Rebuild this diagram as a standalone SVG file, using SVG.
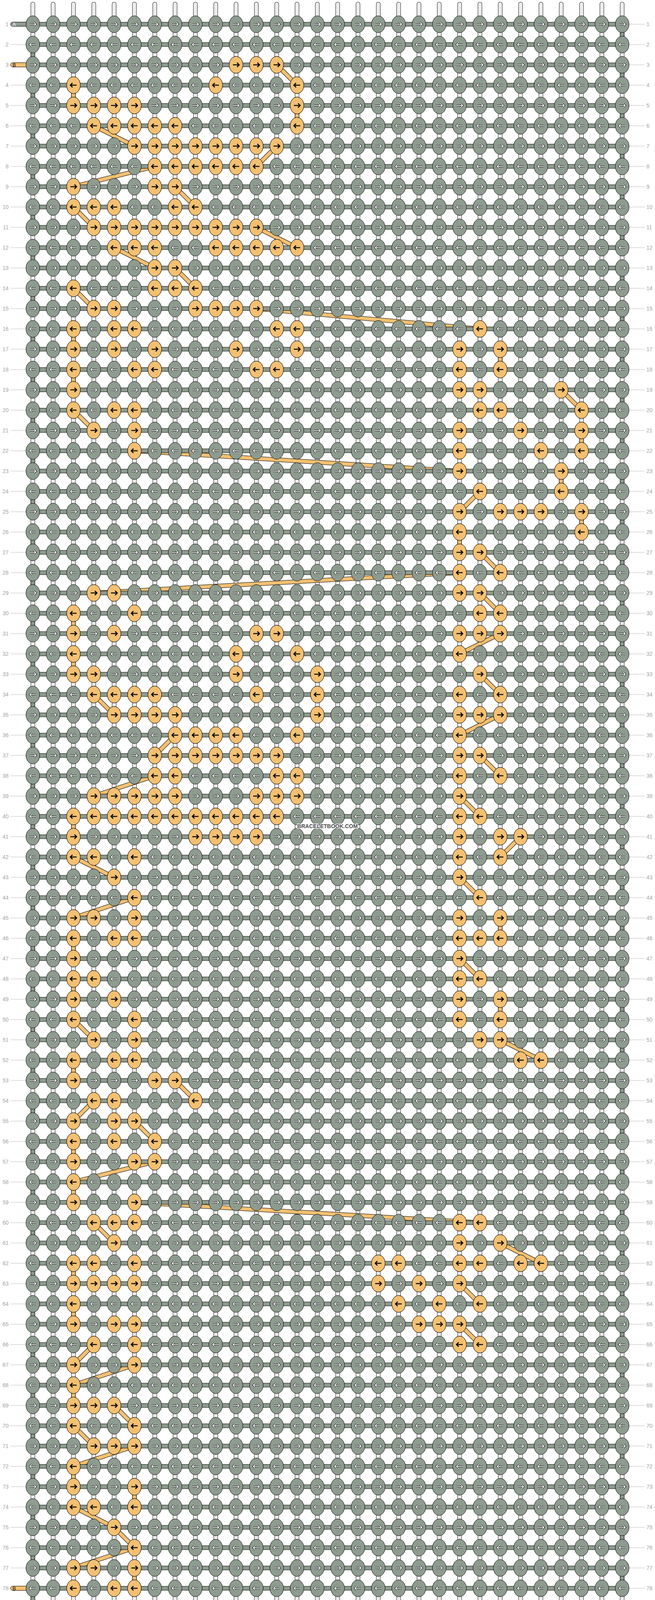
<svg xmlns="http://www.w3.org/2000/svg" width="1676" height="4232" viewBox="0 0 1676 4232">
<style>
.lbl{font-family:"Liberation Sans",Arial,sans-serif;font-size:14px;fill:#a3a3a3;text-anchor:end}
.lbr{font-family:"Liberation Sans",Arial,sans-serif;font-size:14px;fill:#a3a3a3;text-anchor:start}
.ok{fill:#f3c071;stroke:#000;stroke-width:1}
.gk{fill:#8e9b8f;stroke:#000;stroke-width:1}
.aw{fill:none;stroke:#fff;stroke-width:1.8}
.ao{fill:none;stroke:#000;stroke-width:3.8}
.ab{fill:none;stroke:#000;stroke-width:2.6}
.s1{fill:none;stroke:#000;stroke-width:11;stroke-linecap:round}
.s2{fill:none;stroke:#fff;stroke-width:9;stroke-linecap:round}
.s3{fill:none;stroke:#c8c8c8;stroke-width:4}
.s4{fill:none;stroke:#fff;stroke-width:2}
.c1{fill:none;stroke:#000;stroke-width:11}
.c2{fill:none;stroke:#f3c071;stroke-width:9}
.e2{fill:none;stroke:#8e9b8f;stroke-width:9}
.stg{fill:#8e9b8f;stroke:#000;stroke-width:1}
.sto{fill:#f3c071;stroke:#000;stroke-width:1}
.stt{font-family:"Liberation Sans",Arial,sans-serif;font-size:13px}
.wm{font-family:"Liberation Sans",Arial,sans-serif;font-weight:bold;font-size:14px;fill:#4a4a4a;stroke:#fff;stroke-width:3;paint-order:stroke;text-anchor:middle}
</style>
<defs>
<path id="aR" d="M-8 0H7.5M2.5-5.5L8 0 2.5 5.5"/>
<path id="aL" d="M8 0H-7.5M-2.5-5.5L-8 0-2.5 5.5"/>
<g id="R"><ellipse rx="17.5" ry="21.5" class="ok"/><use href="#aR" class="ab"/></g>
<g id="L"><ellipse rx="17.5" ry="21.5" class="ok"/><use href="#aL" class="ab"/></g>
<pattern id="kp" x="58" y="36" width="52" height="104" patternUnits="userSpaceOnUse">
<g transform="translate(26 26)"><ellipse rx="17.5" ry="21.5" class="gk"/><use href="#aR" class="ao"/><use href="#aR" class="aw"/></g>
<g transform="translate(26 78)"><ellipse rx="17.5" ry="21.5" class="gk"/><use href="#aL" class="ao"/><use href="#aL" class="aw"/></g>
</pattern>
<pattern id="hp" x="0" y="36" width="1676" height="52" patternUnits="userSpaceOnUse">
<rect x="0" y="20.5" width="1676" height="11" fill="#000"/><rect x="0" y="21.5" width="1676" height="9" fill="#8e9b8f"/>
</pattern>
<pattern id="tp" x="0" y="36" width="1676" height="52" patternUnits="userSpaceOnUse">
<rect x="0" y="25.5" width="1676" height="1" fill="#bdbdbd"/>
</pattern>
<path id="vs" d="M84 10.5V4221.5M136 10.5V4221.5M188 10.5V4221.5M240 10.5V4221.5M292 10.5V4221.5M344 10.5V4221.5M396 10.5V4221.5M448 10.5V4221.5M500 10.5V4221.5M552 10.5V4221.5M604 10.5V4221.5M656 10.5V4221.5M708 10.5V4221.5M760 10.5V4221.5M812 10.5V4221.5M864 10.5V4221.5M916 10.5V4221.5M968 10.5V4221.5M1020 10.5V4221.5M1072 10.5V4221.5M1124 10.5V4221.5M1176 10.5V4221.5M1228 10.5V4221.5M1280 10.5V4221.5M1332 10.5V4221.5M1384 10.5V4221.5M1436 10.5V4221.5M1488 10.5V4221.5M1540 10.5V4221.5M1592 10.5V4221.5"/>
<path id="bp" d="M708 166L760 218M188 218V270M760 270V322M240 322L344 374M708 374L656 426M396 426L188 478M448 478L500 530M188 530L240 582M656 582L760 634M292 634L396 686M448 686L500 738M188 738L240 790M656 790L1228 842M188 842V894M1280 894V946M188 946V998M1436 998L1488 1050M188 1050L240 1102M1488 1102V1154M344 1154L1176 1206M1436 1206V1258M1228 1258L1176 1310M1488 1310V1362M1176 1362V1414M1228 1414L1280 1466M1176 1466L240 1518M1228 1518L1280 1570M188 1570V1622M1280 1622L1176 1674M188 1674V1726M1228 1726L1280 1778M240 1778L292 1830M1280 1830L1176 1882M448 1882L396 1934M1228 1934L1280 1986M396 1986L240 2038M1176 2038L1228 2090M188 2090V2142M1332 2142L1280 2194M188 2194L292 2246M1176 2246L1228 2298M344 2298L188 2350M1280 2350V2402M188 2402V2454M1176 2454L1228 2506M188 2506V2558M1280 2558V2610M188 2610L240 2662M1280 2662L1384 2714M188 2714V2766M448 2766L500 2818M240 2818L188 2870M344 2870L396 2922M188 2922V2974M396 2974L188 3026M188 3026V3078M344 3078L1228 3130M240 3130L292 3182M1280 3182L1384 3234M188 3234V3286M1176 3286L1228 3338M188 3338V3390M1176 3390L1228 3442M240 3442L188 3494M344 3494L188 3546M188 3546V3598M292 3598L344 3650M188 3650L240 3702M344 3702L188 3754M188 3754V3806M344 3806V3858M188 3858L292 3910M292 3910L344 3962M344 3962L188 4014M344 4014V4066"/>
</defs>
<rect width="1676" height="4232" fill="#fff"/>
<g id="strings">
<use href="#vs" class="s1"/><use href="#vs" class="s2"/><use href="#vs" class="s3"/><use href="#vs" class="s4"/>
</g>
<g id="ticks">
<rect x="27" y="36" width="39.5" height="4160" fill="url(#tp)"/>
<rect x="1610" y="36" width="40" height="4160" fill="url(#tp)"/>
</g>
<g id="connectors">
<path d="M1592 62V4170" class="c1" stroke-dasharray="52 52"/>
<path d="M1592 62V4170" class="e2" stroke-dasharray="52 52"/>
<path d="M84 114V4118" class="c1" stroke-dasharray="52 52"/>
<path d="M84 114V4118" class="e2" stroke-dasharray="52 52"/>
<use href="#bp" class="c1"/><use href="#bp" class="c2"/>
<rect x="84" y="36" width="1508" height="4160" fill="url(#hp)"/>
</g>
<g id="stubs">
<rect x="27" y="56.5" width="60" height="11" rx="5.5" class="stg"/><text x="32" y="67" class="stt" fill="#fff">A</text>
<rect x="27" y="160.5" width="60" height="11" rx="5.5" class="sto"/><text x="32" y="171" class="stt" fill="#000">B</text>
<rect x="27" y="4060.5" width="60" height="11" rx="5.5" class="sto"/><text x="32" y="4071" class="stt" fill="#000">B</text>
<rect x="27" y="4164.5" width="60" height="11" rx="5.5" class="stg"/><text x="32" y="4175" class="stt" fill="#fff">A</text>
</g>
<g id="knots">
<rect x="58" y="36" width="1560" height="4160" fill="url(#kp)"/>
<g id="row3" transform="translate(0 166)"><use href="#R" x="604"/><use href="#R" x="656"/><use href="#R" x="708"/></g>
<g id="row4" transform="translate(0 218)"><use href="#L" x="188"/><use href="#L" x="552"/><use href="#L" x="760"/></g>
<g id="row5" transform="translate(0 270)"><use href="#R" x="188"/><use href="#R" x="240"/><use href="#R" x="292"/><use href="#R" x="344"/><use href="#R" x="760"/></g>
<g id="row6" transform="translate(0 322)"><use href="#L" x="240"/><use href="#L" x="292"/><use href="#L" x="344"/><use href="#L" x="396"/><use href="#L" x="448"/><use href="#L" x="760"/></g>
<g id="row7" transform="translate(0 374)"><use href="#R" x="344"/><use href="#R" x="396"/><use href="#R" x="448"/><use href="#R" x="500"/><use href="#R" x="552"/><use href="#R" x="604"/><use href="#R" x="656"/><use href="#R" x="708"/></g>
<g id="row8" transform="translate(0 426)"><use href="#L" x="396"/><use href="#L" x="448"/><use href="#L" x="500"/><use href="#L" x="552"/><use href="#L" x="604"/><use href="#L" x="656"/></g>
<g id="row9" transform="translate(0 478)"><use href="#R" x="188"/><use href="#R" x="396"/><use href="#R" x="448"/></g>
<g id="row10" transform="translate(0 530)"><use href="#L" x="188"/><use href="#L" x="240"/><use href="#L" x="292"/><use href="#L" x="448"/><use href="#L" x="500"/></g>
<g id="row11" transform="translate(0 582)"><use href="#R" x="240"/><use href="#R" x="292"/><use href="#R" x="344"/><use href="#R" x="396"/><use href="#R" x="448"/><use href="#R" x="500"/><use href="#R" x="552"/><use href="#R" x="604"/><use href="#R" x="656"/></g>
<g id="row12" transform="translate(0 634)"><use href="#L" x="292"/><use href="#L" x="344"/><use href="#L" x="396"/><use href="#L" x="552"/><use href="#L" x="604"/><use href="#L" x="656"/><use href="#L" x="708"/><use href="#L" x="760"/></g>
<g id="row13" transform="translate(0 686)"><use href="#R" x="396"/><use href="#R" x="448"/></g>
<g id="row14" transform="translate(0 738)"><use href="#L" x="188"/><use href="#L" x="396"/><use href="#L" x="448"/><use href="#L" x="500"/></g>
<g id="row15" transform="translate(0 790)"><use href="#R" x="240"/><use href="#R" x="292"/><use href="#R" x="500"/><use href="#R" x="552"/><use href="#R" x="604"/><use href="#R" x="656"/></g>
<g id="row16" transform="translate(0 842)"><use href="#L" x="188"/><use href="#L" x="292"/><use href="#L" x="344"/><use href="#L" x="708"/><use href="#L" x="760"/><use href="#L" x="1228"/></g>
<g id="row17" transform="translate(0 894)"><use href="#R" x="188"/><use href="#R" x="292"/><use href="#R" x="396"/><use href="#R" x="604"/><use href="#R" x="760"/><use href="#R" x="1176"/><use href="#R" x="1280"/></g>
<g id="row18" transform="translate(0 946)"><use href="#L" x="188"/><use href="#L" x="344"/><use href="#L" x="396"/><use href="#L" x="656"/><use href="#L" x="708"/><use href="#L" x="1176"/><use href="#L" x="1280"/></g>
<g id="row19" transform="translate(0 998)"><use href="#R" x="188"/><use href="#R" x="1176"/><use href="#R" x="1228"/><use href="#R" x="1436"/></g>
<g id="row20" transform="translate(0 1050)"><use href="#L" x="188"/><use href="#L" x="292"/><use href="#L" x="344"/><use href="#L" x="1228"/><use href="#L" x="1280"/><use href="#L" x="1488"/></g>
<g id="row21" transform="translate(0 1102)"><use href="#R" x="240"/><use href="#R" x="344"/><use href="#R" x="1176"/><use href="#R" x="1332"/><use href="#R" x="1488"/></g>
<g id="row22" transform="translate(0 1154)"><use href="#L" x="344"/><use href="#L" x="1176"/><use href="#L" x="1384"/><use href="#L" x="1488"/></g>
<g id="row23" transform="translate(0 1206)"><use href="#R" x="1176"/><use href="#R" x="1436"/></g>
<g id="row24" transform="translate(0 1258)"><use href="#L" x="1228"/><use href="#L" x="1436"/></g>
<g id="row25" transform="translate(0 1310)"><use href="#R" x="1176"/><use href="#R" x="1280"/><use href="#R" x="1332"/><use href="#R" x="1384"/><use href="#R" x="1488"/></g>
<g id="row26" transform="translate(0 1362)"><use href="#L" x="1176"/><use href="#L" x="1488"/></g>
<g id="row27" transform="translate(0 1414)"><use href="#R" x="1176"/><use href="#R" x="1228"/></g>
<g id="row28" transform="translate(0 1466)"><use href="#L" x="1176"/><use href="#L" x="1280"/></g>
<g id="row29" transform="translate(0 1518)"><use href="#R" x="240"/><use href="#R" x="292"/><use href="#R" x="1176"/><use href="#R" x="1228"/></g>
<g id="row30" transform="translate(0 1570)"><use href="#L" x="188"/><use href="#L" x="344"/><use href="#L" x="1228"/><use href="#L" x="1280"/></g>
<g id="row31" transform="translate(0 1622)"><use href="#R" x="188"/><use href="#R" x="292"/><use href="#R" x="656"/><use href="#R" x="708"/><use href="#R" x="1176"/><use href="#R" x="1228"/><use href="#R" x="1280"/></g>
<g id="row32" transform="translate(0 1674)"><use href="#L" x="188"/><use href="#L" x="604"/><use href="#L" x="760"/><use href="#L" x="1176"/></g>
<g id="row33" transform="translate(0 1726)"><use href="#R" x="188"/><use href="#R" x="240"/><use href="#R" x="604"/><use href="#R" x="812"/><use href="#R" x="1228"/></g>
<g id="row34" transform="translate(0 1778)"><use href="#L" x="240"/><use href="#L" x="292"/><use href="#L" x="344"/><use href="#L" x="396"/><use href="#L" x="656"/><use href="#L" x="812"/><use href="#L" x="1176"/><use href="#L" x="1280"/></g>
<g id="row35" transform="translate(0 1830)"><use href="#R" x="292"/><use href="#R" x="344"/><use href="#R" x="396"/><use href="#R" x="448"/><use href="#R" x="812"/><use href="#R" x="1176"/><use href="#R" x="1228"/><use href="#R" x="1280"/></g>
<g id="row36" transform="translate(0 1882)"><use href="#L" x="448"/><use href="#L" x="500"/><use href="#L" x="552"/><use href="#L" x="604"/><use href="#L" x="760"/><use href="#L" x="1176"/></g>
<g id="row37" transform="translate(0 1934)"><use href="#R" x="396"/><use href="#R" x="448"/><use href="#R" x="500"/><use href="#R" x="552"/><use href="#R" x="604"/><use href="#R" x="656"/><use href="#R" x="708"/><use href="#R" x="1176"/><use href="#R" x="1228"/></g>
<g id="row38" transform="translate(0 1986)"><use href="#L" x="396"/><use href="#L" x="448"/><use href="#L" x="708"/><use href="#L" x="760"/><use href="#L" x="1176"/><use href="#L" x="1280"/></g>
<g id="row39" transform="translate(0 2038)"><use href="#R" x="240"/><use href="#R" x="292"/><use href="#R" x="344"/><use href="#R" x="396"/><use href="#R" x="448"/><use href="#R" x="656"/><use href="#R" x="708"/><use href="#R" x="760"/><use href="#R" x="1176"/></g>
<g id="row40" transform="translate(0 2090)"><use href="#L" x="188"/><use href="#L" x="240"/><use href="#L" x="292"/><use href="#L" x="344"/><use href="#L" x="396"/><use href="#L" x="448"/><use href="#L" x="500"/><use href="#L" x="552"/><use href="#L" x="604"/><use href="#L" x="656"/><use href="#L" x="708"/><use href="#L" x="1176"/><use href="#L" x="1228"/></g>
<g id="row41" transform="translate(0 2142)"><use href="#R" x="188"/><use href="#R" x="500"/><use href="#R" x="552"/><use href="#R" x="604"/><use href="#R" x="656"/><use href="#R" x="1176"/><use href="#R" x="1280"/><use href="#R" x="1332"/></g>
<g id="row42" transform="translate(0 2194)"><use href="#L" x="188"/><use href="#L" x="240"/><use href="#L" x="344"/><use href="#L" x="1176"/><use href="#L" x="1280"/></g>
<g id="row43" transform="translate(0 2246)"><use href="#R" x="292"/><use href="#R" x="1176"/></g>
<g id="row44" transform="translate(0 2298)"><use href="#L" x="344"/><use href="#L" x="1228"/></g>
<g id="row45" transform="translate(0 2350)"><use href="#R" x="188"/><use href="#R" x="240"/><use href="#R" x="344"/><use href="#R" x="1176"/><use href="#R" x="1280"/></g>
<g id="row46" transform="translate(0 2402)"><use href="#L" x="188"/><use href="#L" x="292"/><use href="#L" x="344"/><use href="#L" x="1176"/><use href="#L" x="1228"/><use href="#L" x="1280"/></g>
<g id="row47" transform="translate(0 2454)"><use href="#R" x="188"/><use href="#R" x="1176"/></g>
<g id="row48" transform="translate(0 2506)"><use href="#L" x="188"/><use href="#L" x="240"/><use href="#L" x="1176"/><use href="#L" x="1228"/></g>
<g id="row49" transform="translate(0 2558)"><use href="#R" x="188"/><use href="#R" x="292"/><use href="#R" x="1176"/><use href="#R" x="1280"/></g>
<g id="row50" transform="translate(0 2610)"><use href="#L" x="188"/><use href="#L" x="344"/><use href="#L" x="1176"/><use href="#L" x="1280"/></g>
<g id="row51" transform="translate(0 2662)"><use href="#R" x="240"/><use href="#R" x="344"/><use href="#R" x="1228"/><use href="#R" x="1280"/></g>
<g id="row52" transform="translate(0 2714)"><use href="#L" x="188"/><use href="#L" x="292"/><use href="#L" x="344"/><use href="#L" x="1332"/><use href="#L" x="1384"/></g>
<g id="row53" transform="translate(0 2766)"><use href="#R" x="188"/><use href="#R" x="396"/><use href="#R" x="448"/></g>
<g id="row54" transform="translate(0 2818)"><use href="#L" x="240"/><use href="#L" x="292"/><use href="#L" x="500"/></g>
<g id="row55" transform="translate(0 2870)"><use href="#R" x="188"/><use href="#R" x="292"/><use href="#R" x="344"/></g>
<g id="row56" transform="translate(0 2922)"><use href="#L" x="188"/><use href="#L" x="292"/><use href="#L" x="396"/></g>
<g id="row57" transform="translate(0 2974)"><use href="#R" x="188"/><use href="#R" x="344"/><use href="#R" x="396"/></g>
<g id="row58" transform="translate(0 3026)"><use href="#L" x="188"/></g>
<g id="row59" transform="translate(0 3078)"><use href="#R" x="188"/><use href="#R" x="344"/></g>
<g id="row60" transform="translate(0 3130)"><use href="#L" x="240"/><use href="#L" x="292"/><use href="#L" x="344"/><use href="#L" x="1176"/><use href="#L" x="1228"/></g>
<g id="row61" transform="translate(0 3182)"><use href="#R" x="292"/><use href="#R" x="1176"/><use href="#R" x="1280"/></g>
<g id="row62" transform="translate(0 3234)"><use href="#L" x="188"/><use href="#L" x="240"/><use href="#L" x="344"/><use href="#L" x="968"/><use href="#L" x="1020"/><use href="#L" x="1176"/><use href="#L" x="1228"/><use href="#L" x="1332"/><use href="#L" x="1384"/></g>
<g id="row63" transform="translate(0 3286)"><use href="#R" x="188"/><use href="#R" x="240"/><use href="#R" x="292"/><use href="#R" x="344"/><use href="#R" x="968"/><use href="#R" x="1072"/><use href="#R" x="1176"/></g>
<g id="row64" transform="translate(0 3338)"><use href="#L" x="188"/><use href="#L" x="1020"/><use href="#L" x="1124"/><use href="#L" x="1228"/></g>
<g id="row65" transform="translate(0 3390)"><use href="#R" x="188"/><use href="#R" x="292"/><use href="#R" x="344"/><use href="#R" x="1072"/><use href="#R" x="1124"/><use href="#R" x="1176"/></g>
<g id="row66" transform="translate(0 3442)"><use href="#L" x="240"/><use href="#L" x="344"/><use href="#L" x="1176"/><use href="#L" x="1228"/></g>
<g id="row67" transform="translate(0 3494)"><use href="#R" x="188"/><use href="#R" x="344"/></g>
<g id="row68" transform="translate(0 3546)"><use href="#L" x="188"/></g>
<g id="row69" transform="translate(0 3598)"><use href="#R" x="188"/><use href="#R" x="240"/><use href="#R" x="292"/></g>
<g id="row70" transform="translate(0 3650)"><use href="#L" x="188"/><use href="#L" x="344"/></g>
<g id="row71" transform="translate(0 3702)"><use href="#R" x="240"/><use href="#R" x="292"/><use href="#R" x="344"/></g>
<g id="row72" transform="translate(0 3754)"><use href="#L" x="188"/></g>
<g id="row73" transform="translate(0 3806)"><use href="#R" x="188"/><use href="#R" x="344"/></g>
<g id="row74" transform="translate(0 3858)"><use href="#L" x="188"/><use href="#L" x="240"/><use href="#L" x="344"/></g>
<g id="row75" transform="translate(0 3910)"><use href="#R" x="292"/></g>
<g id="row76" transform="translate(0 3962)"><use href="#L" x="344"/></g>
<g id="row77" transform="translate(0 4014)"><use href="#R" x="188"/><use href="#R" x="240"/><use href="#R" x="344"/></g>
<g id="row78" transform="translate(0 4066)"><use href="#L" x="188"/><use href="#L" x="292"/><use href="#L" x="344"/></g>
</g>
<text x="838" y="2120" class="wm">BRACELETBOOK.COM</text>
<g id="labels-left" class="lbl" transform="translate(22 0)">
<text y="67">1</text><text y="119">2</text><text y="171">3</text><text y="223">4</text><text y="275">5</text><text y="327">6</text><text y="379">7</text><text y="431">8</text><text y="483">9</text><text y="535">10</text>
<text y="587">11</text><text y="639">12</text><text y="691">13</text><text y="743">14</text><text y="795">15</text><text y="847">16</text><text y="899">17</text><text y="951">18</text><text y="1003">19</text><text y="1055">20</text>
<text y="1107">21</text><text y="1159">22</text><text y="1211">23</text><text y="1263">24</text><text y="1315">25</text><text y="1367">26</text><text y="1419">27</text><text y="1471">28</text><text y="1523">29</text><text y="1575">30</text>
<text y="1627">31</text><text y="1679">32</text><text y="1731">33</text><text y="1783">34</text><text y="1835">35</text><text y="1887">36</text><text y="1939">37</text><text y="1991">38</text><text y="2043">39</text><text y="2095">40</text>
<text y="2147">41</text><text y="2199">42</text><text y="2251">43</text><text y="2303">44</text><text y="2355">45</text><text y="2407">46</text><text y="2459">47</text><text y="2511">48</text><text y="2563">49</text><text y="2615">50</text>
<text y="2667">51</text><text y="2719">52</text><text y="2771">53</text><text y="2823">54</text><text y="2875">55</text><text y="2927">56</text><text y="2979">57</text><text y="3031">58</text><text y="3083">59</text><text y="3135">60</text>
<text y="3187">61</text><text y="3239">62</text><text y="3291">63</text><text y="3343">64</text><text y="3395">65</text><text y="3447">66</text><text y="3499">67</text><text y="3551">68</text><text y="3603">69</text><text y="3655">70</text>
<text y="3707">71</text><text y="3759">72</text><text y="3811">73</text><text y="3863">74</text><text y="3915">75</text><text y="3967">76</text><text y="4019">77</text><text y="4071">78</text><text y="4123">79</text><text y="4175">80</text>
</g>
<g id="labels-right" class="lbr" transform="translate(1654 0)">
<text y="67">1</text><text y="119">2</text><text y="171">3</text><text y="223">4</text><text y="275">5</text><text y="327">6</text><text y="379">7</text><text y="431">8</text><text y="483">9</text><text y="535">10</text>
<text y="587">11</text><text y="639">12</text><text y="691">13</text><text y="743">14</text><text y="795">15</text><text y="847">16</text><text y="899">17</text><text y="951">18</text><text y="1003">19</text><text y="1055">20</text>
<text y="1107">21</text><text y="1159">22</text><text y="1211">23</text><text y="1263">24</text><text y="1315">25</text><text y="1367">26</text><text y="1419">27</text><text y="1471">28</text><text y="1523">29</text><text y="1575">30</text>
<text y="1627">31</text><text y="1679">32</text><text y="1731">33</text><text y="1783">34</text><text y="1835">35</text><text y="1887">36</text><text y="1939">37</text><text y="1991">38</text><text y="2043">39</text><text y="2095">40</text>
<text y="2147">41</text><text y="2199">42</text><text y="2251">43</text><text y="2303">44</text><text y="2355">45</text><text y="2407">46</text><text y="2459">47</text><text y="2511">48</text><text y="2563">49</text><text y="2615">50</text>
<text y="2667">51</text><text y="2719">52</text><text y="2771">53</text><text y="2823">54</text><text y="2875">55</text><text y="2927">56</text><text y="2979">57</text><text y="3031">58</text><text y="3083">59</text><text y="3135">60</text>
<text y="3187">61</text><text y="3239">62</text><text y="3291">63</text><text y="3343">64</text><text y="3395">65</text><text y="3447">66</text><text y="3499">67</text><text y="3551">68</text><text y="3603">69</text><text y="3655">70</text>
<text y="3707">71</text><text y="3759">72</text><text y="3811">73</text><text y="3863">74</text><text y="3915">75</text><text y="3967">76</text><text y="4019">77</text><text y="4071">78</text><text y="4123">79</text><text y="4175">80</text>
</g>
</svg>
